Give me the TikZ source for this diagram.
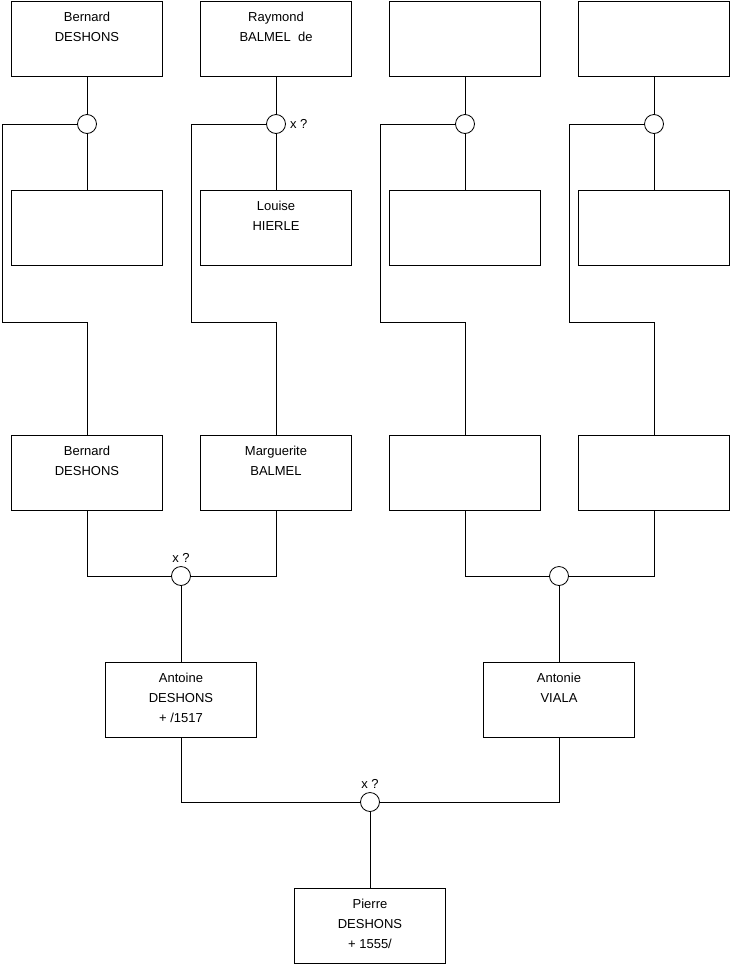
\documentclass[tikz,border=0pt]{standalone}
\usepackage{fontspec}
\setmainfont{Liberation Sans}
\usetikzlibrary{positioning}

\begin{document}
\begin{tikzpicture}[x=1pt, y=-1pt,
  every node/.style={font=\fontsize{13}{20}\selectfont},
  person/.style={draw, line width=0.8pt, minimum width=151pt, minimum height=75pt, inner sep=0pt},
  who/.style={anchor=north, align=center, inner sep=0pt, yshift=-11pt},
  union/.style={circle, draw, line width=0.8pt, fill=white, minimum size=19pt, inner sep=0pt},
  link/.style={line width=0.8pt},
  note/.style={inner sep=0pt}
]
\useasboundingbox (0,0) rectangle (740,975);

% --- row 1: great-grandparents
\node[person] (p1) at (87,38.5)  {};
\node[person] (p2) at (276,38.5) {};
\node[person] (p3) at (465,38.5) {};
\node[person] (p4) at (654,38.5) {};
\node[who] (p1t) at (p1.north) {Bernard\\DESHONS};
\node[who] (p2t) at (p2.north) {Raymond\\BALMEL~ de};

% --- row 2: spouses
\node[person] (s1) at (87,227.5)  {};
\node[person] (s2) at (276,227.5) {};
\node[person] (s3) at (465,227.5) {};
\node[person] (s4) at (654,227.5) {};
\node[who] (s2t) at (s2.north) {Louise\\HIERLE};

% unions of row 1 and row 2
\node[union] (u1) at (87,124)  {};
\node[union] (u2) at (276,124) {};
\node[union] (u3) at (465,124) {};
\node[union] (u4) at (654,124) {};
\node[note, anchor=west] (x2) at ([xshift=4pt]u2.east) {x ?};

% --- row 3: grandparents
\node[person] (g1) at (87,472.5)  {};
\node[person] (g2) at (276,472.5) {};
\node[person] (g3) at (465,472.5) {};
\node[person] (g4) at (654,472.5) {};
\node[who] (g1t) at (g1.north) {Bernard\\DESHONS};
\node[who] (g2t) at (g2.north) {Marguerite\\BALMEL};

% child links (left bracket down to row 3)
\coordinate (k1) at (2,322);
\coordinate (k2) at (191,322);
\coordinate (k3) at (380,322);
\coordinate (k4) at (569,322);
\draw[link] (p1) -- (u1);  \draw[link] (u1) -- (s1);
\draw[link] (p2) -- (u2);  \draw[link] (u2) -- (s2);
\draw[link] (p3) -- (u3);  \draw[link] (u3) -- (s3);
\draw[link] (p4) -- (u4);  \draw[link] (u4) -- (s4);
\draw[link] (u1.west) -| (k1) -| (g1.north);
\draw[link] (u2.west) -| (k2) -| (g2.north);
\draw[link] (u3.west) -| (k3) -| (g3.north);
\draw[link] (u4.west) -| (k4) -| (g4.north);

% --- row 4: parents
\node[union] (u5) at (181,576) {};
\node[union] (u6) at (559,576) {};
\node[note, anchor=south] (x5) at ([yshift=3pt]u5.north) {x ?};
\node[person] (f1) at (181,699.5) {};
\node[person] (f2) at (559,699.5) {};
\node[who] (f1t) at (f1.north) {Antoine\\DESHONS\\+ /1517};
\node[who] (f2t) at (f2.north) {Antonie\\VIALA};
\draw[link] (g1.south) |- (u5.west);
\draw[link] (g2.south) |- (u5.east);
\draw[link] (g3.south) |- (u6.west);
\draw[link] (g4.south) |- (u6.east);
\draw[link] (u5) -- (f1);
\draw[link] (u6) -- (f2);

% --- row 5: child
\node[union] (u7) at (370,802) {};
\node[note, anchor=south] (x7) at ([yshift=3pt]u7.north) {x ?};
\node[person] (c1) at (370,925.5) {};
\node[who] (c1t) at (c1.north) {Pierre\\DESHONS\\+ 1555/};
\draw[link] (f1.south) |- (u7.west);
\draw[link] (f2.south) |- (u7.east);
\draw[link] (u7) -- (c1);

\end{tikzpicture}
\end{document}
